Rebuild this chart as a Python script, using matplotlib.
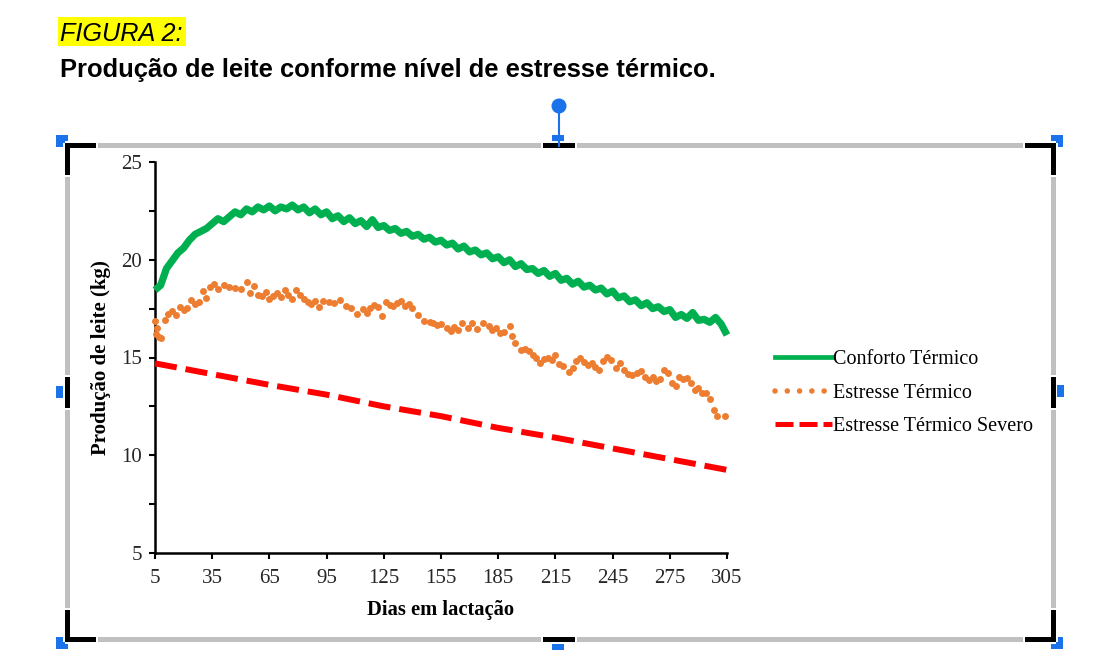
import numpy as np
import matplotlib
matplotlib.use("Agg")
import matplotlib.pyplot as plt
from matplotlib.lines import Line2D
from matplotlib.patches import Rectangle, Circle

# ---- data ----
comfort_days = np.arange(5, 306, 3)
comfort_vals = [
    18.45, 18.7, 19.55, 19.95, 20.35, 20.6, 21.0, 21.3, 21.45, 21.6,
    21.85, 22.1, 21.95, 22.2, 22.45, 22.3, 22.6, 22.45, 22.7, 22.55,
    22.75, 22.5, 22.7, 22.6, 22.8, 22.55, 22.7, 22.4, 22.6, 22.3,
    22.45, 22.1, 22.25, 21.95, 22.15, 21.85, 22.0, 21.7, 22.05, 21.65,
    21.75, 21.5, 21.6, 21.35, 21.45, 21.2, 21.3, 21.05, 21.15, 20.9,
    21.0, 20.75, 20.85, 20.55, 20.7, 20.4, 20.5, 20.25, 20.35, 20.05,
    20.15, 19.85, 20.0, 19.65, 19.8, 19.5, 19.55, 19.3, 19.45, 19.15,
    19.3, 18.95, 19.05, 18.75, 18.9, 18.6, 18.7, 18.45, 18.55, 18.25,
    18.4, 18.05, 18.15, 17.85, 17.95, 17.65, 17.8, 17.5, 17.6, 17.35,
    17.45, 17.05, 17.2, 17.0, 17.3, 16.9, 16.95, 16.8, 17.05, 16.7,
    16.15,
]

stress_days = [
    5, 5.5, 6, 7, 8, 10, 12, 14, 16, 18, 20, 22, 24, 26, 28, 30, 32, 34, 36, 38,
    41, 44, 47, 50, 53, 55, 57, 59, 61, 63, 65, 67, 69, 71, 73, 75, 77, 79, 81, 83,
    85, 87, 89, 91, 93, 96, 99, 102, 105, 108, 111, 114, 116, 118, 120, 122, 124, 126, 128, 130,
    132, 134, 136, 138, 140, 143, 146, 149, 151, 153, 155, 158, 160, 162, 164, 166, 169, 171, 174, 177,
    180, 182, 184, 186, 188, 191, 192, 194, 197, 199, 201, 203, 205, 207, 209, 211, 213, 215, 217, 219,
    222, 224, 226, 228, 230, 232, 234, 236, 238, 240, 242, 244, 247, 249, 251, 253, 255, 258, 260, 262,
    264, 266, 268, 270, 272, 274, 276, 278, 280, 282, 284, 286, 288, 290, 292, 294, 296, 298, 300, 304,
]
stress_vals = [
    16.85, 16.2, 16.5, 16.05, 16.0, 16.9, 17.25, 17.4, 17.15, 17.6, 17.45, 17.55, 17.95, 17.75, 17.85, 18.4, 18.05, 18.6, 18.75, 18.5,
    18.7, 18.6, 18.55, 18.5, 18.85, 18.3, 18.65, 18.2, 18.15, 18.35, 18.0, 18.15, 18.3, 18.1, 18.45, 18.2, 18.0, 18.45, 18.2, 18.0,
    17.85, 17.75, 17.9, 17.6, 17.9, 17.85, 17.8, 17.95, 17.65, 17.55, 17.25, 17.5, 17.3, 17.55, 17.7, 17.6, 17.1, 17.85, 17.7, 17.65,
    17.8, 17.9, 17.65, 17.75, 17.55, 17.15, 16.85, 16.8, 16.75, 16.65, 16.7, 16.5, 16.35, 16.55, 16.4, 16.75, 16.5, 16.75, 16.45, 16.75,
    16.6, 16.4, 16.5, 16.25, 16.3, 16.6, 16.1, 15.75, 15.4, 15.45, 15.35, 15.15, 14.95, 14.7, 14.9, 15.0, 14.85, 15.15, 14.65, 14.55,
    14.25, 14.45, 14.8, 14.95, 14.75, 14.6, 14.7, 14.5, 14.35, 14.8, 15.05, 14.85, 14.45, 14.7, 14.35, 14.15, 14.1, 14.2, 14.3, 14.0,
    13.85, 14.0, 13.8, 13.9, 14.35, 14.2, 13.7, 13.55, 14.0, 13.9, 13.95, 13.7, 13.35, 13.45, 13.2, 13.2, 12.9, 12.3, 12.0, 12.0,
]

severe_days = [5, 35, 65, 95, 125, 155, 185, 215, 245, 275, 305]
severe_vals = [14.7, 14.15, 13.6, 13.1, 12.5, 12.0, 11.4, 10.9, 10.35, 9.8, 9.25]

x_ticks = list(range(5, 306, 30))
y_ticks = [5, 10, 15, 20, 25]
labels = ["Conforto Térmico", "Estresse Térmico", "Estresse Térmico Severo"]

GREEN = "#00b050"
ORANGE = "#ed7d31"
RED = "#ff0000"
BLUE = "#1a73e8"
GREY = "#c0c0c0"

W, H = 1104, 667
fig = plt.figure(figsize=(W / 100, H / 100), dpi=100)
serif = ["Liberation Serif", "DejaVu Serif"]

# ---- chart ----
ax = fig.add_axes([155 / W, 1 - 553 / H, (727 - 155) / W, (553 - 162) / H])
ax.plot(comfort_days, comfort_vals, color=GREEN, lw=5.2, solid_joinstyle="round",
        solid_capstyle="butt", clip_on=False, zorder=3)
ax.plot(stress_days, stress_vals, "o", color=ORANGE, ms=5.0, mew=0, clip_on=False, zorder=3)
ax.plot(severe_days, severe_vals, color=RED, lw=4.3, linestyle=(0, (3.7, 1.5)),
        clip_on=False, zorder=3)

ax.set_xlim(5, 305)
ax.set_ylim(5, 25)
ax.set_xticks(x_ticks)
ax.set_yticks(y_ticks)
ax.set_yticks([7.5, 12.5, 17.5, 22.5], minor=True)
for s in ["top", "right"]:
    ax.spines[s].set_visible(False)
for s in ["left", "bottom"]:
    ax.spines[s].set_linewidth(1.8)
ax.tick_params(which="both", direction="out", length=4.3, width=1.5, color="black")
ax.tick_params(axis="y", pad=5, labelsize=15, labelcolor="#262626")
ax.tick_params(axis="x", pad=7, labelsize=15, labelcolor="#262626")
for lab in ax.get_xticklabels() + ax.get_yticklabels():
    lab.set_family(serif)
ax.set_xlabel("Dias em lactação", family=serif, fontsize=14.8, fontweight="bold", labelpad=9)
ax.set_ylabel("Produção de leite (kg)", family=serif, fontsize=15, fontweight="bold", labelpad=7)

handles = [
    Line2D([], [], color=GREEN, lw=3.4),
    Line2D([], [], color=ORANGE, lw=4.0, linestyle=(0, (0.01, 2.2)), dash_capstyle="round"),
    Line2D([], [], color=RED, lw=3.6, linestyle=(0, (3.6, 1.2))),
]
fig.legend(handles, labels, loc="center left", bbox_to_anchor=(767 / W, 1 - 393 / H),
           frameon=False, prop={"family": serif, "size": 14.5}, handlelength=2.85,
           handletextpad=0.05, labelspacing=0.72, borderaxespad=0)

# ---- page overlay: caption and selection frame (pixel coordinates) ----
ov = fig.add_axes([0, 0, 1, 1], zorder=-1)
ov.set_xlim(0, W)
ov.set_ylim(H, 0)
ov.axis("off")
ov.patch.set_alpha(0)

ov.add_patch(Rectangle((58, 17), 128, 29, color="#ffff00", lw=0))
ov.text(60, 41, "FIGURA 2:", family="Liberation Sans", style="italic", fontsize=18.2, va="baseline")
ov.text(60, 77, "Produção de leite conforme nível de estresse térmico.", family="Liberation Sans",
        fontweight="bold", fontsize=18.4, va="baseline")

L, R, T, B = 65, 1056, 143, 642
t = 5
# grey border
for rect in [(L, T, R - L, t), (L, B - t, R - L, t), (L, T, t, B - T), (R - t, T, t, B - T)]:
    ov.add_patch(Rectangle(rect[:2], rect[2], rect[3], color=GREY, lw=0))

# blue handles
for xy, w, h in [((56, 135), 12, 12), ((1051, 135), 12, 12), ((56, 637), 12, 12), ((1051, 637), 12, 12),
                 ((552, 135), 12, 6), ((552, 643.5), 12, 6), ((56, 386), 7, 12), ((1057, 385), 7, 12)]:
    ov.add_patch(Rectangle(xy, w, h, color=BLUE, lw=0))

# black corner / middle marks with a small white gap
arm = 31
marks = [
    (L, T, arm, t), (L, T, t, arm + 1),
    (R - arm, T, arm, t), (R - t, T, t, arm + 1),
    (L, B - t, arm, t), (L, B - arm - 1, t, arm + 1),
    (R - arm, B - t, arm, t), (R - t, B - arm - 1, t, arm + 1),
    (543, T, 32, t), (543, B - t, 32, t),
    (L, 377, t, 31), (R - t, 377, t, 31),
]
for x0, y0, w, h in marks:
    if w > h:
        ov.add_patch(Rectangle((x0 - 2, y0), w + 4, h, color="white", lw=0))
    else:
        ov.add_patch(Rectangle((x0, y0 - 2), w, h + 4, color="white", lw=0))
for x0, y0, w, h in marks:
    ov.add_patch(Rectangle((x0, y0), w, h, color="black", lw=0))
# rotation handle
ov.plot([559, 559], [112, 146], color=BLUE, lw=1.5)
ov.add_patch(Circle((559, 106), 7.5, color=BLUE, lw=0))

fig.savefig("out.png", dpi=100)
